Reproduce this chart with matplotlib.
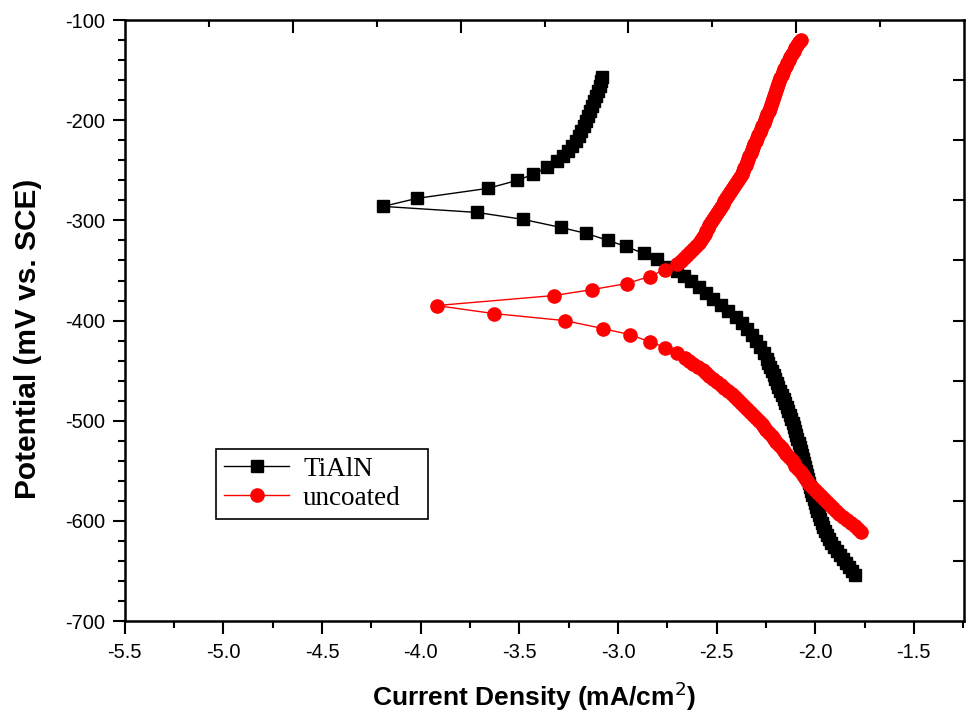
"""Tafel polarisation curves: TiAlN-coated vs uncoated substrate."""

import matplotlib
matplotlib.use("Agg")
import matplotlib.pyplot as plt
from matplotlib.ticker import MultipleLocator

# log current density (mA/cm^2) and potential (mV vs. SCE)
tialn_logi = [
    -1.80, -1.815, -1.83, -1.845, -1.86, -1.875, -1.89, -1.905, -1.92, -1.93,
    -1.94, -1.95, -1.96, -1.968, -1.975, -1.983, -1.99, -1.995, -2.00, -2.008,
    -2.015, -2.02, -2.025, -2.03, -2.035, -2.04, -2.045, -2.05, -2.055, -2.06,
    -2.065, -2.07, -2.075, -2.083, -2.09, -2.095, -2.10, -2.108, -2.115, -2.122,
    -2.13, -2.138, -2.145, -2.152, -2.16, -2.17, -2.18, -2.188, -2.195, -2.203,
    -2.21, -2.22, -2.23, -2.238, -2.245,
    -2.26, -2.28, -2.30, -2.32, -2.345, -2.37, -2.40, -2.44, -2.48, -2.52,
    -2.555, -2.59, -2.63, -2.665, -2.70, -2.74,
    -2.80, -2.87, -2.96, -3.05, -3.16, -3.29, -3.48, -3.715, -4.19,
    -4.02, -3.66, -3.51, -3.43, -3.36, -3.31, -3.28, -3.255, -3.235, -3.215,
    -3.20, -3.185, -3.17, -3.16, -3.15, -3.14, -3.13, -3.12, -3.11, -3.10,
    -3.09, -3.085, -3.08,
]
tialn_e = [
    -654, -650, -646, -642, -638, -634, -630, -626, -622, -618,
    -614, -610, -606, -602, -598, -594, -590, -586, -582, -578,
    -574, -570, -566, -562, -558, -554, -550, -546, -542, -538,
    -534, -530, -526, -522, -518, -514, -510, -506, -502, -498,
    -494, -490, -486, -482, -478, -474, -470, -466, -462, -458,
    -454, -450, -446, -442, -438,
    -432, -426, -420, -414, -408, -402, -396, -390, -384, -378,
    -372, -366, -360, -355, -350, -346,
    -339, -333, -326, -320, -313, -307, -299, -292, -286,
    -278, -268, -260, -254, -247, -241, -236, -231, -226, -221,
    -216, -211, -206, -201, -196, -191, -186, -181, -176, -171,
    -166, -161, -157,
]

uncoated_logi = [
    -1.77, -1.785, -1.80, -1.82, -1.84, -1.86, -1.88, -1.895, -1.91, -1.925,
    -1.94, -1.955, -1.97, -1.985, -2.00, -2.015, -2.03, -2.04, -2.05, -2.06,
    -2.07, -2.085, -2.10, -2.11, -2.12, -2.135, -2.15, -2.16, -2.17, -2.185,
    -2.20, -2.21, -2.22, -2.235, -2.25, -2.26, -2.27, -2.285, -2.30, -2.315,
    -2.33, -2.345, -2.36, -2.375, -2.39, -2.405, -2.42, -2.44, -2.46, -2.48,
    -2.50, -2.52, -2.54, -2.555, -2.57, -2.595, -2.62, -2.64, -2.66,
    -2.70, -2.76, -2.84, -2.94, -3.075, -3.27, -3.63, -3.92,
    -3.325, -3.13, -2.955, -2.84, -2.76,
    -2.70, -2.68, -2.665, -2.65, -2.635, -2.62, -2.605, -2.59, -2.58, -2.57,
    -2.56, -2.553, -2.545, -2.537, -2.53, -2.52, -2.51, -2.50, -2.49, -2.48,
    -2.47, -2.46, -2.45, -2.44, -2.43, -2.42, -2.41, -2.40, -2.39, -2.38,
    -2.373, -2.366, -2.36, -2.353, -2.347, -2.34, -2.334, -2.328, -2.321, -2.315,
    -2.308, -2.302, -2.295, -2.289, -2.282, -2.276, -2.269, -2.262, -2.256, -2.249,
    -2.242, -2.236, -2.23, -2.224, -2.218, -2.212, -2.207, -2.202, -2.197, -2.192,
    -2.187, -2.182, -2.177, -2.17, -2.163, -2.156, -2.149, -2.142, -2.135, -2.128,
    -2.12, -2.11, -2.10, -2.09, -2.08, -2.07,
]
uncoated_e = [
    -611, -608, -605, -602, -599, -596, -593, -590, -587, -584,
    -581, -578, -575, -572, -569, -566, -563, -560, -557, -554,
    -551, -548, -545, -542, -539, -536, -533, -530, -527, -524,
    -521, -518, -515, -512, -509, -506, -503, -500, -497, -494,
    -491, -488, -485, -482, -479, -476, -473, -470, -467, -464,
    -461, -458, -455, -452, -449, -446, -443, -440, -437,
    -432, -427, -421, -414, -408, -400, -393, -385,
    -375, -369, -363, -356, -349,
    -344, -341, -338, -335, -332, -329, -326, -323, -320, -317,
    -314, -311, -308, -305, -302, -299, -296, -293, -290, -287,
    -284, -281, -278, -275, -272, -269, -266, -263, -260, -257,
    -254, -251, -248, -245, -242, -239, -236, -233, -230, -227,
    -224, -221, -218, -215, -212, -209, -206, -203, -200, -197,
    -194, -191, -188, -185, -182, -179, -176, -173, -170, -167,
    -164, -161, -158, -155, -152, -149, -146, -143, -140, -137,
    -134, -131, -128, -125, -122, -120,
]

x_ticks = [-5.5, -5.0, -4.5, -4.0, -3.5, -3.0, -2.5, -2.0, -1.5]
y_ticks = [-700, -600, -500, -400, -300, -200, -100]

sans = "Liberation Sans"
serif = "Liberation Serif"

fig = plt.figure(figsize=(9.68, 7.18), dpi=100)
ax = fig.add_axes([0.129, 0.135, 0.867, 0.837])

ax.plot(tialn_logi, tialn_e, color="black", lw=1, marker="s", ms=9,
        mec="black", mfc="black", label="TiAlN", zorder=3)
ax.plot(uncoated_logi, uncoated_e, color="red", lw=1, marker="o", ms=9.5,
        mec="red", mfc="red", label="uncoated", zorder=4)

ax.set_xlim(-5.5, -1.245)
ax.set_ylim(-700, -100)
ax.set_xticks(x_ticks)
ax.set_yticks(y_ticks)
ax.xaxis.set_minor_locator(MultipleLocator(0.25))
ax.yaxis.set_minor_locator(MultipleLocator(20))
ax.set_xticklabels([f"{v:.1f}" for v in x_ticks], fontfamily=sans, fontsize=14.5)
ax.set_yticklabels([str(v) for v in y_ticks], fontfamily=sans, fontsize=14.5)
ax.tick_params(axis="both", which="major", direction="out", length=9, width=1.5)
ax.tick_params(axis="both", which="minor", direction="out", length=5, width=1.5)
ax.tick_params(axis="x", which="major", pad=7)
ax.tick_params(axis="y", which="major", pad=5)
ax.tick_params(top=False, right=False, which="both")
for s in ax.spines.values():
    s.set_linewidth(1.8)

ax.set_xlabel("Current Density (mA/cm$^{2}$)", fontfamily=sans, fontsize=19,
              fontweight="bold")
ax.set_ylabel("Potential (mV vs. SCE)", fontfamily=sans, fontsize=21.5,
              fontweight="bold")
ax.xaxis.set_label_coords(0.488, -0.098)
ax.yaxis.set_label_coords(-0.099, 0.469)

# Origin-style independent top/right tick rows, no labels
top = ax.twiny()
top.set_xlim(0, 10)
top.set_xticks([2, 4, 6, 8])
top.set_xticks([1, 3, 5, 7, 9], minor=True)
top.tick_params(axis="x", which="major", direction="in", length=9, width=1.5,
                labeltop=False)
top.tick_params(axis="x", which="minor", direction="in", length=5, width=1.5)
right = ax.twinx()
right.set_ylim(0, 10)
right.set_yticks(range(1, 10))
right.tick_params(axis="y", direction="in", length=8, width=1.5, labelright=False)
for a in (top, right):
    for s in a.spines.values():
        s.set_visible(False)

leg = ax.legend(loc="upper left", bbox_to_anchor=(0.109, 0.167, 0.252, 0.12),
                mode="expand", fancybox=False, edgecolor="black", framealpha=1,
                borderaxespad=0, prop={"family": serif, "size": 19.5},
                handlelength=2.4, handletextpad=0.5, labelspacing=0.15,
                borderpad=0.3)
leg.get_frame().set_linewidth(1.2)

fig.savefig("out.png", dpi=100)
